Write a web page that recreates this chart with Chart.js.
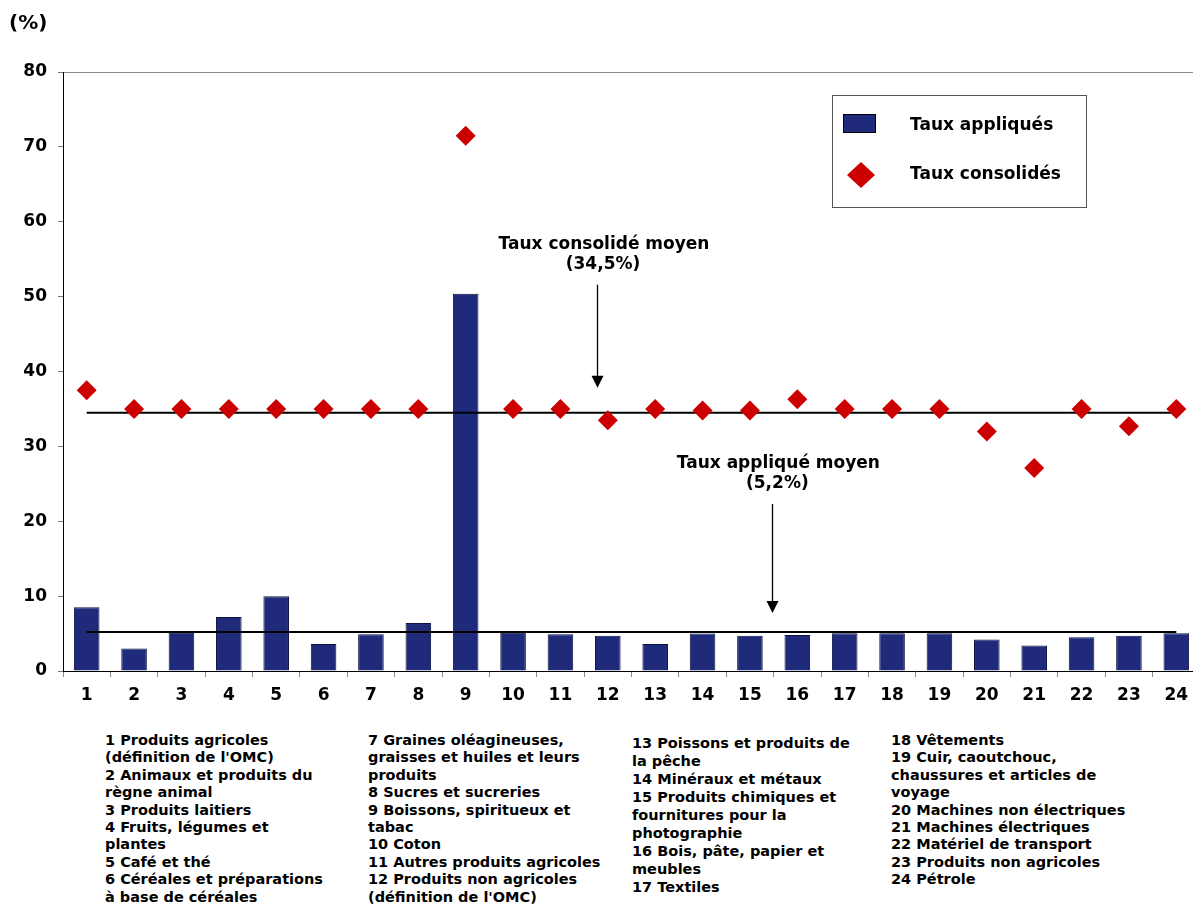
<!DOCTYPE html>
<html lang="fr">
<head>
<meta charset="utf-8">
<script src="https://cdn.jsdelivr.net/npm/chart.js@4.4.1/dist/chart.umd.min.js"></script>
<style>
  html, body { margin: 0; padding: 0; background: #fff; overflow: hidden; }
  #wrap { position: relative; width: 1193px; height: 904px; overflow: hidden;
          font-family: "DejaVu Sans", Verdana, sans-serif; font-weight: bold; color: #000; }
  #chart { position: absolute; left: 0; top: 0; }
  #unit { position: absolute; left: 9px; top: 10px; font-size: 20px; }
  .notes { position: absolute; top: 732px; font-size: 14.5px; line-height: 17.4px; white-space: nowrap; }
</style>
</head>
<body>
<div id="wrap">
  <canvas id="chart" width="1210" height="720"></canvas>
  <div id="unit">(%)</div>
  <div class="notes" id="n1" style="left:105px"></div>
  <div class="notes" id="n2" style="left:368px"></div>
  <div class="notes" id="n3" style="left:632px; top:734px; line-height:18px"></div>
  <div class="notes" id="n4" style="left:891px"></div>
</div>
<script>
const categories = ['1', '2', '3', '4', '5', '6', '7', '8', '9', '10', '11', '12',
  '13', '14', '15', '16', '17', '18', '19', '20', '21', '22', '23', '24'];
const appliedRates = [8.5, 3.0, 5.1, 7.2, 10.0, 3.6, 4.9, 6.4, 50.4, 5.1, 4.9, 4.7,
  3.6, 5.0, 4.7, 4.8, 5.05, 5.05, 5.05, 4.2, 3.4, 4.5, 4.7, 5.05];
const boundRates = [37.5, 35, 35, 35, 35, 35, 35, 35, 71.5, 35, 35, 33.5,
  35, 34.8, 34.8, 36.3, 35, 35, 35, 32.0, 27.1, 35, 32.7, 35];
const avgBound = 34.5;
const avgApplied = 5.2;
const yTicks = [0, 10, 20, 30, 40, 50, 60, 70, 80];

const seriesNames = ['Taux appliqués', 'Taux consolidés'];
const avgLabels = [['Taux consolidé moyen', '(34,5%)'], ['Taux appliqué moyen', '(5,2%)']];

const notesCol1 = ['1 Produits agricoles', "(définition de l'OMC)", '2 Animaux et produits du',
  'règne animal', '3 Produits laitiers', '4 Fruits, légumes et', 'plantes', '5 Café et thé',
  '6 Céréales et préparations', 'à base de céréales'];
const notesCol2 = ['7 Graines oléagineuses,', 'graisses et huiles et leurs', 'produits',
  '8 Sucres et sucreries', '9 Boissons, spiritueux et', 'tabac', '10 Coton',
  '11 Autres produits agricoles', '12 Produits non agricoles', "(définition de l'OMC)"];
const notesCol3 = ['13 Poissons et produits de', 'la pêche', '14 Minéraux et métaux',
  '15 Produits chimiques et', 'fournitures pour la', 'photographie', '16 Bois, pâte, papier et',
  'meubles', '17 Textiles'];
const notesCol4 = ['18 Vêtements', '19 Cuir, caoutchouc,', 'chaussures et articles de', 'voyage',
  '20 Machines non électriques', '21 Machines électriques', '22 Matériel de transport',
  '23 Produits non agricoles', '24 Pétrole'];

[notesCol1, notesCol2, notesCol3, notesCol4].forEach((lines, i) => {
  const el = document.getElementById('n' + (i + 1));
  lines.forEach((t, j) => {
    if (j) el.appendChild(document.createElement('br'));
    el.appendChild(document.createTextNode(t));
  });
});

const BAR = '#1F2A7B';
const RED = '#CC0000';

Chart.defaults.font.family = '"DejaVu Sans", Verdana, sans-serif';
Chart.defaults.color = '#000';

// arrows + legend box
const overlay = {
  id: 'overlay',
  afterDatasetsDraw(chart) {
    const { ctx, scales: { x, y } } = chart;
    ctx.save();
    const notes = [
      { text: avgLabels[0], value: avgBound, textAt: 10.92, arrowAt: 10.77, tipGap: 25 },
      { text: avgLabels[1], value: avgApplied, textAt: 14.6, arrowAt: 14.46, tipGap: 19 }
    ];
    ctx.font = 'bold 17px "DejaVu Sans"';
    ctx.textAlign = 'center';
    ctx.textBaseline = 'middle';
    ctx.fillStyle = '#000';
    ctx.strokeStyle = '#000';
    notes.forEach(n => {
      const lineY = y.getPixelForValue(n.value);
      const tx = x.getPixelForValue(n.textAt);
      ctx.fillText(n.text[0], tx, lineY - 168);
      ctx.fillText(n.text[1], tx - 1, lineY - 148);
      const ax = Math.round(x.getPixelForValue(n.arrowAt)) + 0.5;
      const tip = lineY - n.tipGap;
      ctx.lineWidth = 1.3;
      ctx.beginPath();
      ctx.moveTo(ax, lineY - 128);
      ctx.lineTo(ax, tip - 10);
      ctx.stroke();
      ctx.beginPath();
      ctx.moveTo(ax - 6, tip - 12);
      ctx.lineTo(ax + 6, tip - 12);
      ctx.lineTo(ax, tip);
      ctx.closePath();
      ctx.fill();
    });

    // legend
    ctx.lineWidth = 1;
    ctx.strokeStyle = '#555';
    ctx.strokeRect(832.5, 95.5, 254, 112);
    ctx.fillStyle = BAR;
    ctx.fillRect(843, 114, 33, 19);
    ctx.strokeStyle = '#000';
    ctx.strokeRect(843.5, 114.5, 32, 18);
    ctx.fillStyle = RED;
    ctx.beginPath();
    ctx.moveTo(861, 162);
    ctx.lineTo(875, 175);
    ctx.lineTo(861, 188);
    ctx.lineTo(847, 175);
    ctx.closePath();
    ctx.fill();
    ctx.fillStyle = '#000';
    ctx.textAlign = 'left';
    ctx.fillText(seriesNames[0], 910, 126);
    ctx.fillText(seriesNames[1], 910, 175);
    ctx.restore();
  }
};

new Chart(document.getElementById('chart'), {
  type: 'bar',
  data: {
    labels: categories,
    datasets: [
      {
        label: seriesNames[1],
        type: 'line',
        data: boundRates,
        showLine: false,
        pointStyle: 'rectRot',
        pointRadius: 10,
        pointBackgroundColor: RED,
        pointBorderColor: RED,
        pointBorderWidth: 0,
        order: 1
      },
      {
        label: 'avgBound',
        type: 'line',
        data: categories.map(() => avgBound),
        borderColor: '#000',
        borderWidth: 2,
        pointRadius: 0,
        order: 2
      },
      {
        label: 'avgApplied',
        type: 'line',
        data: categories.map(() => avgApplied),
        borderColor: '#000',
        borderWidth: 2,
        pointRadius: 0,
        order: 2
      },
      {
        label: seriesNames[0],
        data: appliedRates,
        backgroundColor: BAR,
        borderColor: '#0c1240',
        borderWidth: 1,
        categoryPercentage: 0.54,
        barPercentage: 1,
        order: 3
      }
    ]
  },
  options: {
    responsive: false,
    animation: false,
    layout: { padding: { top: 72, right: 9, left: 0, bottom: 0 } },
    plugins: { legend: { display: false }, tooltip: { enabled: false } },
    scales: {
      x: {
        offset: true,
        grid: { offset: true, drawOnChartArea: false, color: '#888', tickLength: 6 },
        border: { color: '#000', width: 1 },
        ticks: { font: { size: 17, weight: 'bold' }, padding: 8, maxRotation: 0 },
        afterFit: s => { s.height = 49; }
      },
      y: {
        min: 0,
        max: 80,
        afterBuildTicks: s => { s.ticks = yTicks.map(v => ({ value: v })); },
        grid: {
          color: c => (c.tick && c.tick.value === 80 ? '#888' : 'rgba(0,0,0,0)'),
          tickColor: '#777',
          tickLength: 5
        },
        border: { color: '#000', width: 1 },
        ticks: { font: { size: 17, weight: 'bold' }, padding: 11 },
        afterFit: s => { s.width = 63; }
      }
    }
  },
  plugins: [overlay]
});
</script>
</body>
</html>
